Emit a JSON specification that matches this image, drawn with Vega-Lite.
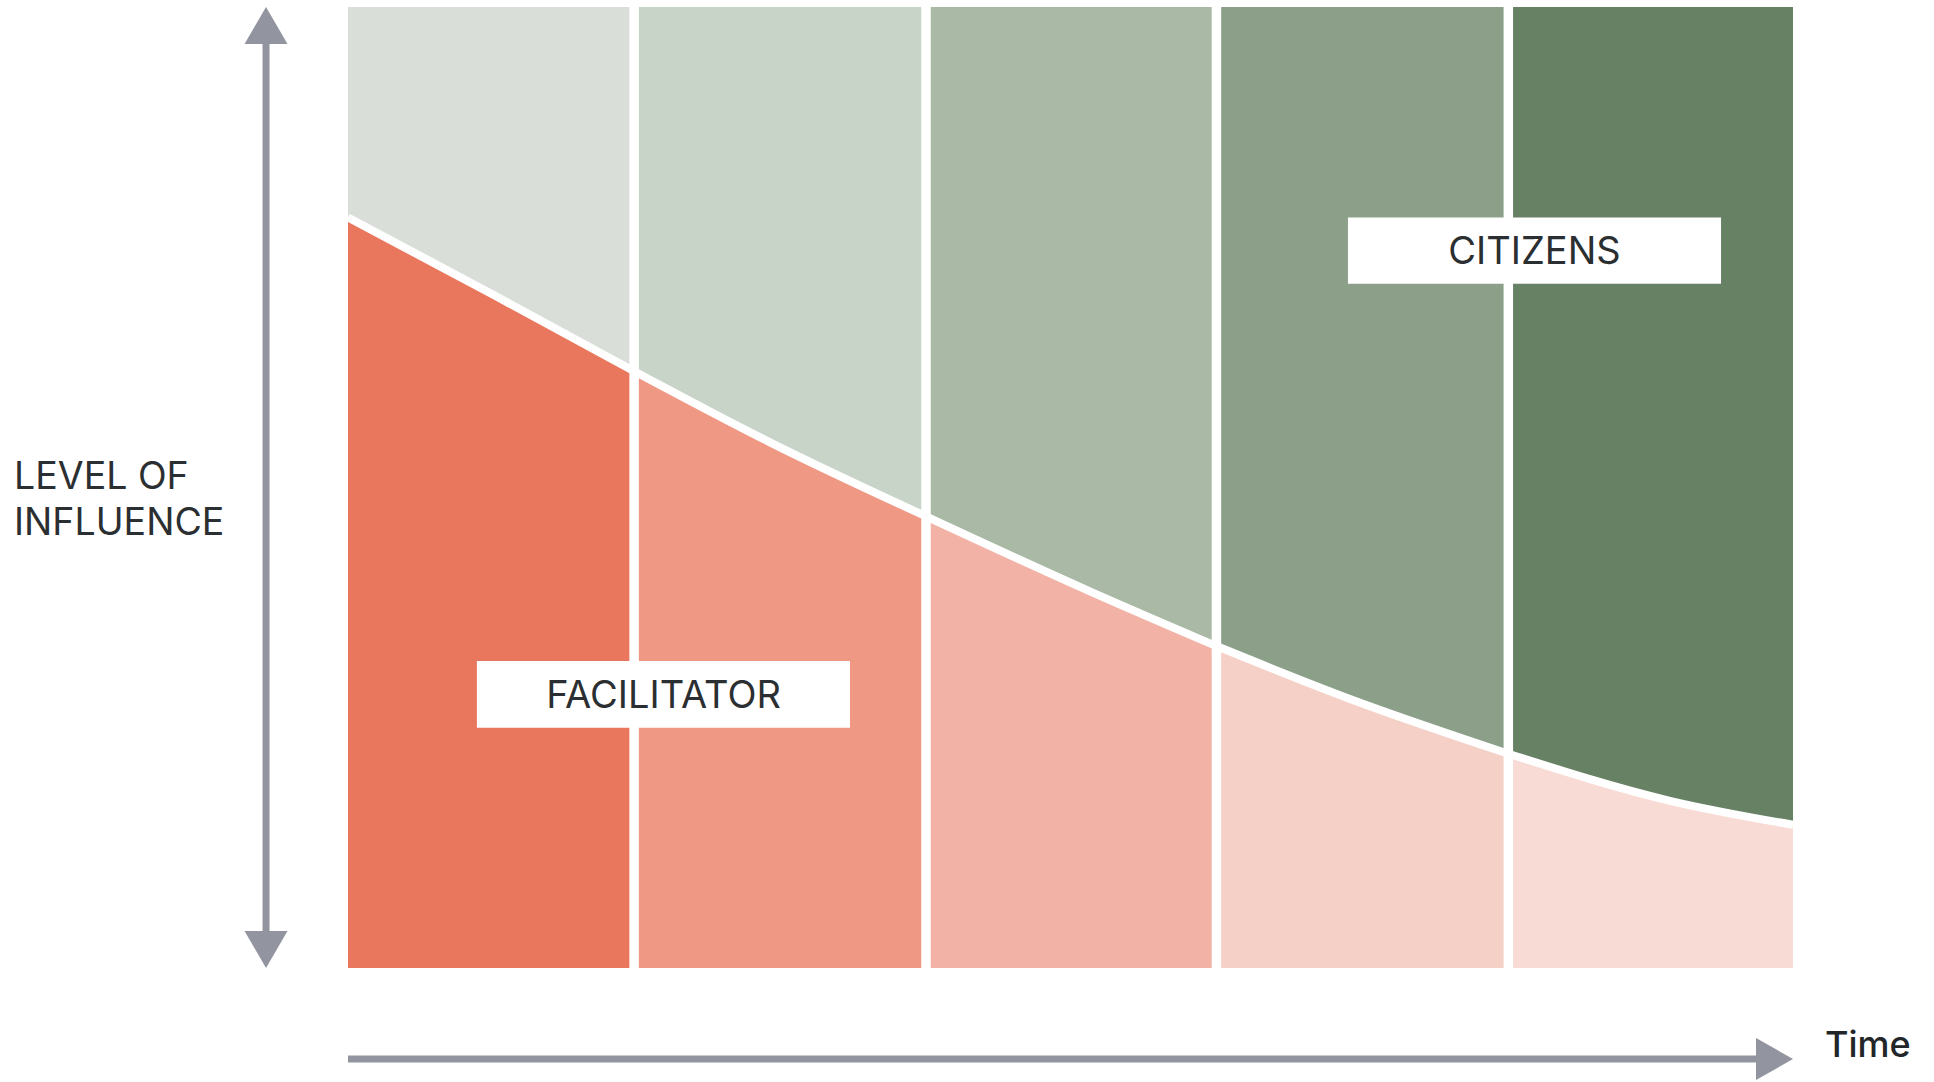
{
  "$schema": "https://vega.github.io/schema/vega-lite/v6.json",
  "width": 1934,
  "height": 1082,
  "autosize": {"type": "fit", "contains": "padding"},
  "padding": 0,
  "background": "white",
  "config": {"view": {"stroke": null}, "axis": {"disable": true}, "legend": {"disable": true}},
  "datasets": {
    "curve": [
      {"col": 1, "t": 0, "v": 78.1},
      {"col": 1, "t": 0.509, "v": 69.95},
      {"col": 1, "t": 0.99, "v": 62.1},
      {"col": 2, "t": 0.99, "v": 62.1},
      {"col": 2, "t": 1.46, "v": 54.7},
      {"col": 2, "t": 2.0, "v": 47.0},
      {"col": 3, "t": 2.0, "v": 47.0},
      {"col": 3, "t": 2.567, "v": 39.2},
      {"col": 3, "t": 3.005, "v": 33.5},
      {"col": 4, "t": 3.005, "v": 33.5},
      {"col": 4, "t": 3.467, "v": 28.0},
      {"col": 4, "t": 4.015, "v": 22.3},
      {"col": 5, "t": 4.015, "v": 22.3},
      {"col": 5, "t": 4.574, "v": 17.4},
      {"col": 5, "t": 5.0, "v": 14.9}
    ],
    "bounds": [
      {"t": 0.99, "v": 0, "v2": 100},
      {"t": 2.0, "v": 0, "v2": 100},
      {"t": 3.005, "v": 0, "v2": 100},
      {"t": 4.015, "v": 0, "v2": 100}
    ],
    "boxes": [
      {"label": "FACILITATOR", "t": 0.446, "t2": 1.737, "v": 25.0, "v2": 31.95, "tc": 1.0917, "vb": 27.06},
      {"label": "CITIZENS", "t": 3.46, "t2": 4.751, "v": 71.2, "v2": 78.1, "tc": 4.1055, "vb": 73.26}
    ],
    "shafts": [
      {"t": -0.2837, "t2": -0.2837, "v": 3, "v2": 97},
      {"t": 0, "t2": 4.9, "v": -9.47, "v2": -9.47}
    ],
    "heads": [
      {"dir": "up", "t": -0.2837, "v": 100},
      {"dir": "down", "t": -0.2837, "v": 0},
      {"dir": "right", "t": 5.0, "v": -9.47}
    ],
    "titles": [
      {"label": "LEVEL OF", "t": -1.1557, "v": 49.84},
      {"label": "INFLUENCE", "t": -1.1557, "v": 45.06}
    ],
    "timelabel": [
      {"label": "Time", "t": 5.1107, "v": -9.26}
    ]
  },
  "layer": [
    {
      "data": {"name": "curve"},
      "mark": {"type": "area", "interpolate": "monotone", "opacity": 1},
      "encoding": {
        "x": {"field": "t", "type": "quantitative", "scale": {"domain": [-1.2042, 5.4879], "nice": false, "zero": false}},
        "y": {"field": "v", "type": "quantitative", "scale": {"domain": [-11.863, 100.728], "nice": false, "zero": false}},
        "y2": {"datum": 0},
        "color": {"field": "col", "type": "ordinal", "scale": {"domain": [1, 2, 3, 4, 5], "range": ["#E9775D", "#EF9884", "#F2B2A6", "#F5D0C7", "#F8DBD5"]}}
      }
    },
    {
      "data": {"name": "curve"},
      "mark": {"type": "area", "interpolate": "monotone", "opacity": 1},
      "encoding": {
        "x": {"field": "t", "type": "quantitative", "scale": {"domain": [-1.2042, 5.4879], "nice": false, "zero": false}},
        "y": {"field": "v", "type": "quantitative", "scale": {"domain": [-11.863, 100.728], "nice": false, "zero": false}},
        "y2": {"datum": 100},
        "fill": {"field": "col", "type": "ordinal", "scale": {"domain": [1, 2, 3, 4, 5], "range": ["#D9DFD8", "#C9D4C8", "#AAB9A6", "#8B9F89", "#668163"]}}
      }
    },
    {
      "data": {"name": "curve"},
      "mark": {"type": "line", "interpolate": "monotone", "color": "white", "strokeWidth": 8},
      "encoding": {
        "x": {"field": "t", "type": "quantitative", "scale": {"domain": [-1.2042, 5.4879], "nice": false, "zero": false}},
        "y": {"field": "v", "type": "quantitative", "scale": {"domain": [-11.863, 100.728], "nice": false, "zero": false}},
        "detail": {"field": "col", "type": "nominal"}
      }
    },
    {
      "data": {"name": "bounds"},
      "mark": {"type": "rule", "color": "white", "strokeWidth": 9.5},
      "encoding": {
        "x": {"field": "t", "type": "quantitative", "scale": {"domain": [-1.2042, 5.4879], "nice": false, "zero": false}},
        "y": {"field": "v", "type": "quantitative", "scale": {"domain": [-11.863, 100.728], "nice": false, "zero": false}},
        "y2": {"field": "v2"}
      }
    },
    {
      "data": {"name": "boxes"},
      "mark": {"type": "rect", "color": "white", "opacity": 1},
      "encoding": {
        "x": {"field": "t", "type": "quantitative", "scale": {"domain": [-1.2042, 5.4879], "nice": false, "zero": false}},
        "x2": {"field": "t2"},
        "y": {"field": "v", "type": "quantitative", "scale": {"domain": [-11.863, 100.728], "nice": false, "zero": false}},
        "y2": {"field": "v2"}
      }
    },
    {
      "data": {"name": "boxes"},
      "mark": {"type": "text", "font": "Inter", "fontSize": 38, "color": "#2B2F31", "align": "center", "baseline": "alphabetic"},
      "encoding": {
        "x": {"field": "tc", "type": "quantitative", "scale": {"domain": [-1.2042, 5.4879], "nice": false, "zero": false}},
        "y": {"field": "vb", "type": "quantitative", "scale": {"domain": [-11.863, 100.728], "nice": false, "zero": false}},
        "text": {"field": "label"}
      }
    },
    {
      "data": {"name": "shafts"},
      "mark": {"type": "rule", "color": "#92959F", "strokeWidth": 7},
      "encoding": {
        "x": {"field": "t", "type": "quantitative", "scale": {"domain": [-1.2042, 5.4879], "nice": false, "zero": false}},
        "x2": {"field": "t2"},
        "y": {"field": "v", "type": "quantitative", "scale": {"domain": [-11.863, 100.728], "nice": false, "zero": false}},
        "y2": {"field": "v2"}
      }
    },
    {
      "data": {"name": "heads"},
      "mark": {"type": "point", "filled": true, "color": "#92959F", "opacity": 1, "size": 1849, "strokeWidth": 0},
      "encoding": {
        "x": {"field": "t", "type": "quantitative", "scale": {"domain": [-1.2042, 5.4879], "nice": false, "zero": false}},
        "y": {"field": "v", "type": "quantitative", "scale": {"domain": [-11.863, 100.728], "nice": false, "zero": false}},
        "shape": {"field": "dir", "type": "nominal", "scale": {"domain": ["up", "down", "right"], "range": ["M0,0L1,1.72L-1,1.72Z", "M0,0L1,-1.72L-1,-1.72Z", "M0,0L-1.72,-0.98L-1.72,0.98Z"]}}
      }
    },
    {
      "data": {"name": "titles"},
      "mark": {"type": "text", "font": "Inter", "fontSize": 37.5, "color": "#2B2F31", "align": "left", "baseline": "alphabetic"},
      "encoding": {
        "x": {"field": "t", "type": "quantitative", "scale": {"domain": [-1.2042, 5.4879], "nice": false, "zero": false}},
        "y": {"field": "v", "type": "quantitative", "scale": {"domain": [-11.863, 100.728], "nice": false, "zero": false}},
        "text": {"field": "label"}
      }
    },
    {
      "data": {"name": "timelabel"},
      "mark": {"type": "text", "font": "Inter", "fontSize": 36, "fontWeight": 500, "color": "#222628", "align": "left", "baseline": "alphabetic"},
      "encoding": {
        "x": {"field": "t", "type": "quantitative", "scale": {"domain": [-1.2042, 5.4879], "nice": false, "zero": false}},
        "y": {"field": "v", "type": "quantitative", "scale": {"domain": [-11.863, 100.728], "nice": false, "zero": false}},
        "text": {"field": "label"}
      }
    }
  ]
}
